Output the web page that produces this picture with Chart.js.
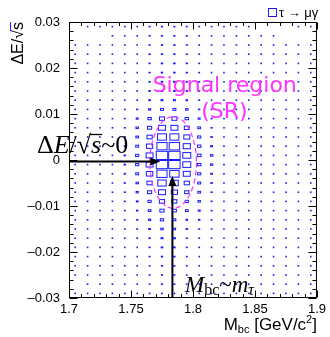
<!DOCTYPE html>
<html><head><meta charset="utf-8">
<script src="https://cdn.jsdelivr.net/npm/chart.js@4"></script>
<style>html,body{margin:0;padding:0;background:#fff}#c{display:block}</style>
</head><body>
<canvas id="c" width="330" height="337"></canvas>
<script>
// ---- data ----
const mbcCenters = [1.705,1.715,1.725,1.735,1.745,1.755,1.765,1.775,1.785,1.795,1.805,1.815,1.825,1.835,1.845,1.855,1.865,1.875,1.885,1.895];
const deCenters = [0.029,0.027,0.025,0.023,0.021,0.019,0.017,0.015,0.013,0.011,0.009,0.007,0.005,0.003,0.001,-0.001,-0.003,-0.005,-0.007,-0.009,-0.011,-0.013,-0.015,-0.017,-0.019,-0.021,-0.023,-0.025,-0.027,-0.029];
// rows = deCenters (top to bottom), columns = mbcCenters
const counts = [
 [0, 7, 8, 8, 9,10,16,17,17,16,13,12,10, 9, 9, 0, 0, 0, 8, 7],
 [0, 0, 0, 8, 9,11,17,18,18,17,14,12,10, 9, 9, 8, 8, 0, 0, 0],
 [8, 8, 8, 9, 9,11,17,19,19,17,14,12,11,10, 9, 9, 8, 8, 8, 8],
 [8, 8, 9, 9,10,12,18,19,19,17,15,12,11,10, 9, 9, 9, 8, 8, 8],
 [8, 9, 9, 9,10,12,18,20,20,18,15,13,11,10,10, 9, 9, 8, 8, 8],
 [8, 9, 9,10,10,12,18,20,20,18,15,13,12,10,10, 9, 9, 9, 8, 8],
 [9, 9, 9,10,11,13,19,21,21,19,16,13,12,11,10,10, 9, 9, 8, 8],
 [9, 9,10,10,11,14,20,21,21,19,16,13,12,11,10,10, 9, 9, 9, 8],
 [9, 9,10,10,12,15,21,24,24,21,16,13,12,11,10,10, 9, 9, 9, 9],
 [9,10,10,11,14,18,26,32,32,28,18,14,12,11,10,10, 9, 9, 9, 9],
 [9,10,10,11,15,24,36,48,48,36,24,16,13,11,10,10,10, 9, 9, 9],
 [10,10,11,12,16,28,42,64,64,48,30,18,13,12,11,10,10, 9, 9, 9],
 [10,10,11,12,18,30,50,80,80,56,34,20,13,12,11,10,10, 9, 9, 9],
 [10,10,11,12,19,32,58,90,92,66,36,24,14,12,11,10,10,10, 9, 9],
 [10,11,11,12,20,34,64,100,100,72,38,28,14,12,11,10,10,10, 9, 9],
 [10,11,11,12,20,34,64,100,100,72,36,26,14,12,11,10,10,10, 9, 9],
 [10,10,11,12,19,32,60,90,84,64,34,22,14,12,11,10,10, 9, 9, 9],
 [10,10,11,12,18,28,50,76,70,50,32,20,13,12,11,10,10, 9, 9, 9],
 [10,10,10,11,17,26,42,64,58,42,30,18,13,12,11,10,10, 9, 9, 9],
 [9,10,10,11,16,22,34,50,48,34,28,17,13,11,10,10, 9, 9, 9, 9],
 [9,10,10,11,15,20,30,42,40,30,24,16,12,11,10,10, 9, 9, 9, 8],
 [9, 9,10,10,14,18,26,34,32,22,20,15,12,11,10,10, 9, 9, 8, 8],
 [9, 9,10,10,13,16,22,28,28,20,17,14,12,11,10, 9, 9, 9, 8, 8],
 [9, 9, 9,10,11,14,19,24,24,17,15,13,12,10,10, 9, 9, 8, 8, 8],
 [8, 9, 9,10,11,13,17,21,21,16,14,12,11,10,10, 9, 9, 8, 8, 8],
 [8, 9, 9, 9,10,12,16,19,19,15,13,12,11,10, 9, 9, 9, 8, 8, 8],
 [8, 8, 9, 9,10,12,15,18,18,15,13,12,11,10, 9, 9, 8, 8, 8, 8],
 [8, 8, 9, 9,10,11,15,17,17,14,12,11,10, 9, 9, 9, 8, 8, 8, 8],
 [0, 8, 8, 9, 9,11,14,16,16,14,12,11,10, 9, 9, 8, 8, 8, 8, 8],
 [8, 8, 8, 9, 9,10,14,15,15,13,12,11,10, 9, 9, 8, 8, 8, 8, 8]
];
const xTickValues = [1.7,1.75,1.8,1.85,1.9];
const yTickValues = [-0.03,-0.02,-0.01,0,0.01,0.02,0.03];
const legendLabel = 'τ → μγ';
const srText = ['Signal region', '(SR)'];
const srEllipse = {x: 1.784, y: -0.00054, rx: 0.0188, ry: 0.00996};
const arrowDE = {y: -0.0003, tipX: 1.7736};
const arrowMbc = {x: 1.7834, tipY: -0.0035};

// ---- constants (style) ----
const binW = 0.01, binH = 0.002;
const BLUE = '#1a1aff', MAG = '#ff33ff';
const maxCount = Math.max(...counts.flat());

const points = [];
counts.forEach((row, r) => row.forEach((v, c) => {
  if (v > 0) points.push({x: mbcCenters[c], y: deCenters[r], v: v});
}));

Chart.defaults.font.family = "'Liberation Sans', Arial, sans-serif";

const boxPlugin = {
  id: 'boxes',
  afterDatasetsDraw(chart) {
    const ctx = chart.ctx, xs = chart.scales.x, ys = chart.scales.y, a = chart.chartArea;
    const meta = chart.getDatasetMeta(0);
    const data = chart.data.datasets[0].data;
    const wpx = Math.abs(xs.getPixelForValue(1.7 + binW) - xs.getPixelForValue(1.7));
    const hpx = Math.abs(ys.getPixelForValue(binH) - ys.getPixelForValue(0));
    ctx.save();
    ctx.beginPath(); ctx.rect(a.left, a.top, a.right - a.left, a.bottom - a.top); ctx.clip();
    ctx.strokeStyle = BLUE; ctx.lineWidth = 1;
    meta.data.forEach((el, i) => {
      const f = data[i].v / maxCount;
      const w = Math.max(wpx * f - 1, 0.6), h = Math.max(hpx * f - 1, 0.6);
      ctx.strokeRect(el.x - w / 2, el.y - h / 2, w, h);
    });
    ctx.restore();
  },
  afterDraw(chart) {
    const ctx = chart.ctx, xs = chart.scales.x, ys = chart.scales.y, a = chart.chartArea;
    const px = v => xs.getPixelForValue(v), py = v => ys.getPixelForValue(v);
    ctx.save();
    // ellipse
    ctx.strokeStyle = MAG; ctx.lineWidth = 1.2; ctx.setLineDash([5, 3]);
    ctx.beginPath();
    ctx.ellipse(px(srEllipse.x), py(srEllipse.y),
      Math.abs(px(srEllipse.x + srEllipse.rx) - px(srEllipse.x)),
      Math.abs(py(srEllipse.y + srEllipse.ry) - py(srEllipse.y)), 0, 0, Math.PI * 2);
    ctx.stroke(); ctx.setLineDash([]);
    // SR text
    ctx.fillStyle = MAG; ctx.textAlign = 'center'; ctx.textBaseline = 'middle';
    ctx.font = "22px 'DejaVu Sans', sans-serif";
    ctx.fillText(srText[0], px(1.8256), py(0.0161));
    ctx.fillText(srText[1], px(1.8254), py(0.0104));

    // arrows
    ctx.strokeStyle = '#000'; ctx.fillStyle = '#000'; ctx.lineWidth = 2;
    const hy = py(arrowDE.y), tx = px(arrowDE.tipX);
    ctx.beginPath(); ctx.moveTo(a.left, hy); ctx.lineTo(tx - 8, hy); ctx.stroke();
    ctx.beginPath(); ctx.moveTo(tx, hy); ctx.lineTo(tx - 10, hy - 4); ctx.lineTo(tx - 10, hy + 4); ctx.closePath(); ctx.fill();
    const vx = px(arrowMbc.x), ty = py(arrowMbc.tipY);
    ctx.beginPath(); ctx.moveTo(vx, a.bottom); ctx.lineTo(vx, ty + 8); ctx.stroke();
    ctx.beginPath(); ctx.moveTo(vx, ty); ctx.lineTo(vx - 4, ty + 10); ctx.lineTo(vx + 4, ty + 10); ctx.closePath(); ctx.fill();

    // annotation texts (serif math)
    ctx.textAlign = 'left'; ctx.textBaseline = 'alphabetic'; ctx.fillStyle = '#000';
    const seq = (parts, x0, y0) => {
      let x = x0; const pos = [];
      parts.forEach(p => {
        ctx.font = p.f; const w = ctx.measureText(p.t).width;
        ctx.fillText(p.t, x, y0 + (p.dy || 0)); pos.push([x, w]); x += w;
      });
      return pos;
    };
    const up26 = "26px 'Liberation Serif', serif", it26 = "italic 26px 'Liberation Serif', serif";
    const p1 = seq([{t:'Δ',f:up26},{t:'E',f:it26},{t:'/',f:up26},{t:'√',f:up26},{t:'s',f:it26},{t:'~0',f:up26}], 37, 153);
    ctx.lineWidth = 1.3; ctx.beginPath();
    ctx.moveTo(p1[3][0] + p1[3][1] - 1, 134.5); ctx.lineTo(p1[4][0] + p1[4][1] + 1, 134.5); ctx.stroke();
    const it23 = "italic 23px 'Liberation Serif', serif", up16 = "16px 'Liberation Serif', serif", it16 = "italic 16px 'Liberation Serif', serif", up23 = "23px 'Liberation Serif', serif";
    seq([{t:'M',f:it23},{t:'bc',f:up16,dy:3},{t:'~',f:up23},{t:'m',f:it23},{t:'τ',f:it16,dy:3}], 185, 292);

    // frame + ticks
    ctx.strokeStyle = '#000'; ctx.lineWidth = 1;
    const L = a.left + 0.5, R = a.right - 0.5, T = a.top + 0.5, B = a.bottom - 0.5;
    ctx.strokeRect(L, T, R - L, B - T);
    ctx.beginPath();
    for (let k = 0; k <= 30; k++) {
      const v = -0.03 + k * 0.002, y = Math.round(py(v)) + 0.5;
      const len = (k % 5 === 0) ? 8 : 4;
      ctx.moveTo(L, y); ctx.lineTo(L + len, y);
      ctx.moveTo(R, y); ctx.lineTo(R - len, y);
    }
    for (let k = 0; k <= 20; k++) {
      const v = 1.7 + k * 0.01, x = Math.round(px(v)) + 0.5;
      const len = (k % 5 === 0) ? 7 : 3.5;
      ctx.moveTo(x, B); ctx.lineTo(x, B - len);
      ctx.moveTo(x, T); ctx.lineTo(x, T + len);
    }
    ctx.stroke();

    // legend
    ctx.strokeStyle = BLUE; ctx.lineWidth = 1;
    ctx.strokeRect(268.5, 8.5, 8, 8);
    ctx.fillStyle = '#000'; ctx.font = "13px 'Liberation Sans', Arial, sans-serif";
    ctx.textBaseline = 'middle';
    ctx.fillText(legendLabel, 279, 13);

    // axis titles
    ctx.textBaseline = 'alphabetic';
    const s1 = "17px 'Liberation Sans', Arial, sans-serif", s2 = "11px 'Liberation Sans', Arial, sans-serif";
    const parts = [{t:'M',f:s1},{t:'bc',f:s2,dy:3},{t:' [GeV/c',f:s1},{t:'2',f:s2,dy:-7},{t:']',f:s1}];
    let tw = 0; parts.forEach(p => { ctx.font = p.f; tw += ctx.measureText(p.t).width; });
    seq(parts, a.right - tw, 330);
    ctx.save();
    ctx.translate(23, a.top); ctx.rotate(-Math.PI / 2);
    ctx.font = "16px 'Liberation Sans', Arial, sans-serif";
    const yt = 'ΔE/√s'; const yw = ctx.measureText(yt).width;
    ctx.fillText(yt, -yw, 0);
    const sw = ctx.measureText('s').width;
    ctx.lineWidth = 1; ctx.beginPath(); ctx.moveTo(-sw - 1, -12.5); ctx.lineTo(0, -12.5); ctx.stroke();
    ctx.restore();
    ctx.restore();
  }
};

new Chart(document.getElementById('c'), {
  type: 'scatter',
  data: { datasets: [{ data: points, pointRadius: 0, pointHoverRadius: 0, showLine: false }] },
  options: {
    responsive: false, animation: false,
    layout: { padding: { top: 22, right: 11, left: 0, bottom: 0 } },
    plugins: { legend: { display: false }, tooltip: { enabled: false } },
    events: [],
    scales: {
      x: {
        type: 'linear', min: 1.7, max: 1.9,
        afterBuildTicks: s => { s.ticks = xTickValues.map(v => ({value: v})); },
        ticks: { color: '#000', font: { size: 13 }, padding: 4, maxRotation: 0, autoSkip: false,
          callback: v => String(Number(v.toFixed(2))) },
        grid: { display: false, drawTicks: false }, border: { display: false },
        afterFit: s => { s.height = 39; }
      },
      y: {
        type: 'linear', min: -0.03, max: 0.03,
        afterBuildTicks: s => { s.ticks = yTickValues.map(v => ({value: v})); },
        ticks: { color: '#000', font: { size: 13 }, padding: 9, autoSkip: false,
          callback: v => { const n = Number(v.toFixed(3)); return n === 0 ? '0' : (n < 0 ? '\u2013' + String(-n) : String(n)); } },
        grid: { display: false, drawTicks: false }, border: { display: false },
        afterFit: s => { s.width = 69; }
      }
    }
  },
  plugins: [boxPlugin]
});
</script>
</body></html>
